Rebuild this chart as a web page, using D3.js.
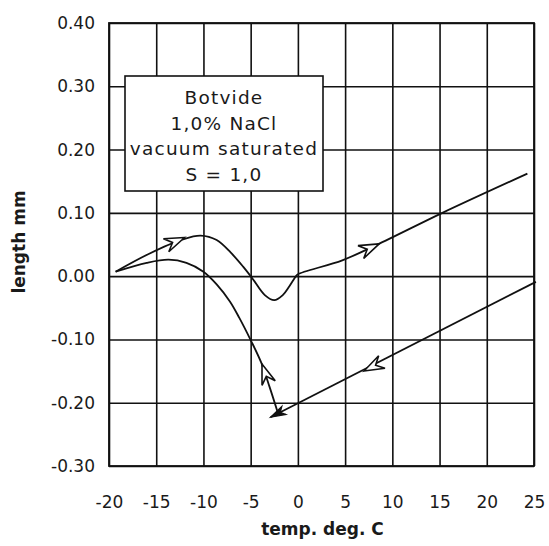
<!DOCTYPE html>
<html>
<head>
<meta charset="utf-8">
<script src="https://cdn.jsdelivr.net/npm/d3@7"></script>
<style>
  html, body { margin: 0; padding: 0; background: #fff; }
  svg { display: block; }
  .tick text { font-family: "DejaVu Sans", sans-serif; font-size: 17px; fill: #1a1a1a; }
</style>
</head>
<body>
<svg id="chart" width="549" height="546"></svg>
<script>
  // Axis ticks
  const xTicks = [-20, -15, -10, -5, 0, 5, 10, 15, 20, 25];
  const yTicks = [-0.3, -0.2, -0.1, 0.0, 0.1, 0.2, 0.3, 0.4];

  // Legend lines
  const legendLines = ['Botvide', '1,0% NaCl', 'vacuum saturated', 'S = 1,0'];

  // Cooling: straight line from +25 down to the bottom vertex
  const coolingX = [25.2, -2.9];
  const coolingY = [-0.009, -0.223];

  // Lower branch: bottom vertex back up to the left end
  const lowerX = [-2.1, -3.0, -3.9, -5.0, -6.2, -7.2, -8.6, -10.0, -11.8, -13.7, -16.0, -19.3];
  const lowerY = [-0.217, -0.175, -0.136, -0.101, -0.066, -0.040, -0.013, 0.007, 0.021, 0.026, 0.021, 0.007];

  // Upper branch: left end, hump, dip near -2.5, then warming line to +24
  const upperX = [-19.3, -15.8, -12.2, -10.3, -8.6, -7.1, -5.8, -4.8, -3.5, -2.5, -1.6, -0.9, -0.2, 0.0, 4.7, 8.3, 15.3, 24.3];
  const upperY = [0.007, 0.035, 0.058, 0.064, 0.057, 0.037, 0.015, -0.004, -0.030, -0.038, -0.030, -0.016, 0.000, 0.003, 0.025, 0.049, 0.100, 0.162];

  // Open arrowheads: position and a second point giving the direction
  const arrowX = [-12.0, 8.6, 7.0, -3.8];
  const arrowY = [0.061, 0.051, -0.150, -0.139];
  const arrowFromX = [-16.0, 4.7, 12.0, -2.6];
  const arrowFromY = [0.036, 0.025, -0.112, -0.190];

  const svg = d3.select('#chart');
  const margin = { left: 109, right: 15, top: 23, bottom: 80 };
  const W = 549, H = 546;

  const x = d3.scaleLinear().domain([-20, 25]).range([margin.left, W - margin.right]);
  const y = d3.scaleLinear().domain([-0.3, 0.4]).range([H - margin.bottom, margin.top]);
  const pw = x(25) - x(-20);
  const ph = y(-0.3) - y(0.4);

  const fmtMinus = (s) => s.replace('\u2212', '-');

  // Grid via axes
  const gx = svg.append('g')
    .attr('transform', 'translate(0,' + y(-0.3) + ')')
    .call(d3.axisBottom(x).tickValues(xTicks)
      .tickSizeInner(-ph).tickSizeOuter(0).tickPadding(30)
      .tickFormat((d) => fmtMinus(d3.format('d')(d))));
  gx.select('.domain').remove();
  gx.selectAll('.tick line').attr('stroke', '#111').attr('stroke-width', 1.6);

  const gy = svg.append('g')
    .attr('transform', 'translate(' + x(-20) + ',0)')
    .call(d3.axisLeft(y).tickValues(yTicks)
      .tickSizeInner(-pw).tickSizeOuter(0).tickPadding(14)
      .tickFormat((d) => fmtMinus(d3.format('.2f')(d))));
  gy.select('.domain').remove();
  gy.selectAll('.tick line').attr('stroke', '#111').attr('stroke-width', 1.6);

  // Frame
  svg.append('rect')
    .attr('x', x(-20)).attr('y', y(0.4))
    .attr('width', pw).attr('height', ph)
    .attr('fill', 'none').attr('stroke', '#111').attr('stroke-width', 1.8);

  // Legend box (covers grid)
  const lg = svg.append('g');
  lg.append('rect')
    .attr('x', 125).attr('y', 76).attr('width', 198).attr('height', 115)
    .attr('fill', '#fff').attr('stroke', '#111').attr('stroke-width', 1.6);
  lg.selectAll('text')
    .data(legendLines)
    .join('text')
    .attr('x', 224)
    .attr('y', (d, i) => 104 + i * 25.5)
    .attr('text-anchor', 'middle')
    .attr('font-family', '"DejaVu Sans", sans-serif')
    .attr('font-size', '18.5px')
    .attr('letter-spacing', '1.2px')
    .attr('fill', '#1a1a1a')
    .text((d) => d);

  // Curves
  const toPts = (xs, ys) => xs.map((v, i) => [x(v), y(ys[i])]);
  const smooth = d3.line().curve(d3.curveCatmullRom.alpha(0.5));
  const straight = d3.line();

  const curves = svg.append('g')
    .attr('fill', 'none').attr('stroke', '#111').attr('stroke-width', 1.8)
    .attr('stroke-linejoin', 'round');
  curves.append('path').attr('d', straight(toPts(coolingX, coolingY)));
  curves.append('path').attr('d', smooth(toPts(lowerX, lowerY)));
  curves.append('path').attr('d', smooth(toPts(upperX, upperY)));

  // Filled arrowhead at the bottom vertex (end of cooling line)
  const endAng = Math.atan2(y(coolingY[1]) - y(coolingY[0]), x(coolingX[1]) - x(coolingX[0])) * 180 / Math.PI;
  svg.append('path')
    .attr('d', 'M0,0 L-15,-4.5 L-11,0 L-15,4.5 Z')
    .attr('transform', 'translate(' + x(coolingX[1]) + ',' + y(coolingY[1]) + ') rotate(' + endAng + ')')
    .attr('fill', '#111').attr('stroke', '#111').attr('stroke-width', 1.2);

  // Open arrowheads
  svg.append('g').selectAll('path')
    .data(arrowX.map((v, i) => i))
    .join('path')
    .attr('d', 'M0,0 L-20,-7 L-13,0 L-20,7 Z')
    .attr('transform', (i) => {
      const ang = Math.atan2(y(arrowY[i]) - y(arrowFromY[i]), x(arrowX[i]) - x(arrowFromX[i])) * 180 / Math.PI;
      return 'translate(' + x(arrowX[i]) + ',' + y(arrowY[i]) + ') rotate(' + ang + ')';
    })
    .attr('fill', '#fff').attr('stroke', '#111').attr('stroke-width', 1.6)
    .attr('stroke-linejoin', 'miter');

  // Axis titles
  svg.append('text')
    .attr('x', (x(-20) + x(25)) / 2 + 1)
    .attr('y', 535)
    .attr('text-anchor', 'middle')
    .attr('font-family', '"DejaVu Sans", sans-serif')
    .attr('font-weight', 'bold')
    .attr('font-size', '17px')
    .attr('fill', '#1a1a1a')
    .text('temp. deg. C');

  svg.append('text')
    .attr('transform', 'translate(25,' + 242 + ') rotate(-90)')
    .attr('text-anchor', 'middle')
    .attr('font-family', '"DejaVu Sans", sans-serif')
    .attr('font-weight', 'bold')
    .attr('font-size', '17px')
    .attr('fill', '#1a1a1a')
    .text('length mm');
</script>
</body>
</html>
